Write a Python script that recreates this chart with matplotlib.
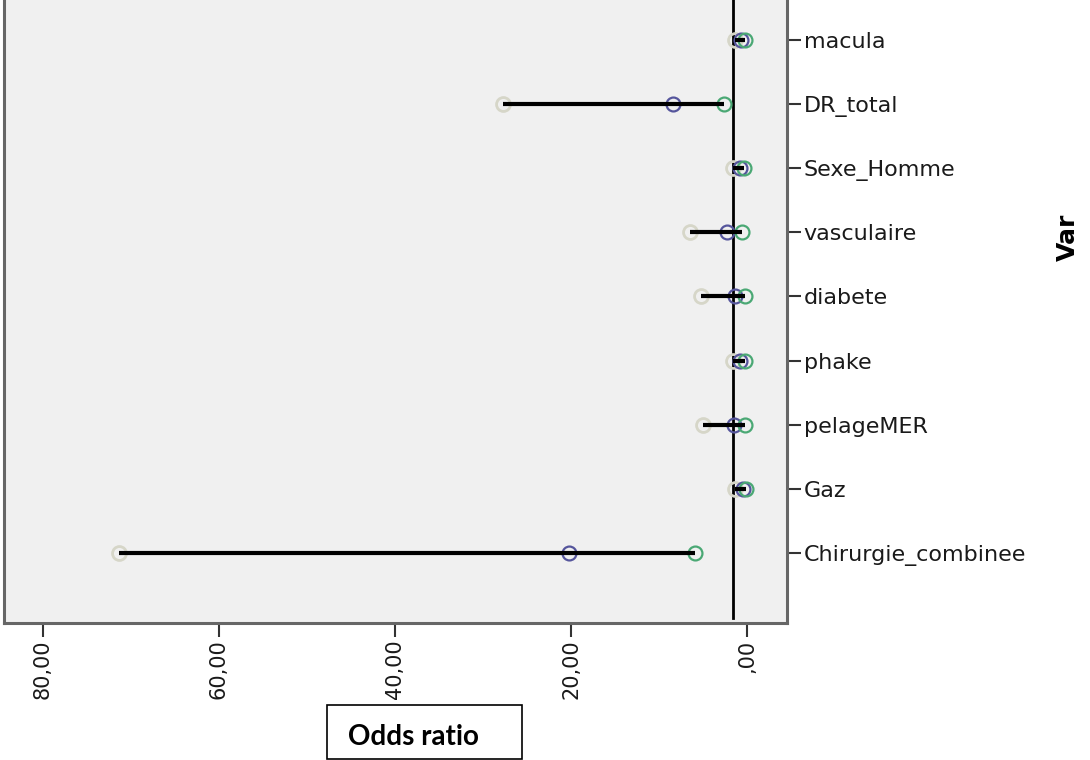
import matplotlib
matplotlib.use("Agg")
import matplotlib.pyplot as plt
from matplotlib.patches import Rectangle

categories = ["macula", "DR_total", "Sexe_Homme", "vasculaire", "diabete",
              "phake", "pelageMER", "Gaz", "Chirurgie_combinee"]
odds_ratio = [0.7, 8.4, 0.8, 2.3, 1.4, 0.8, 1.5, 0.5, 20.3]
ci_lower = [0.3, 2.6, 0.4, 0.6, 0.3, 0.3, 0.3, 0.2, 6.0]
ci_upper = [1.4, 27.7, 1.6, 6.5, 5.3, 1.6, 5.0, 1.4, 71.3]
ref_line = 1.6
xticks = [80, 60, 40, 20, 0]
xtick_labels = ["80,00", "60,00", "40,00", "20,00", ",00"]

fig = plt.figure(figsize=(10.9, 7.6), dpi=100)
ax = fig.add_axes([4/1090, 137/760, 783/1090, 653/760])
ax.set_facecolor("#f0f0f0")

y = list(range(len(categories)))

ax.axvline(ref_line, color="black", lw=2, zorder=2, ymin=0.008)
ax.plot(ci_upper, y, 'o', ms=10, mfc='none', mec='#d6d6c8', mew=2, zorder=3)
ax.plot(odds_ratio, y, 'o', ms=10, mfc='none', mec='#55559c', mew=1.6, zorder=3)
ax.plot(ci_lower, y, 'o', ms=10, mfc='none', mec='#4aa874', mew=1.6, zorder=3)
ax.hlines(y, ci_lower, ci_upper, color='black', lw=3, zorder=4)

ax.set_xlim(84.4, -4.5)
ax.set_ylim(len(categories) - 1 + 1.09, -1.09)

ax.set_xticks(xticks)
ax.set_xticklabels(xtick_labels, rotation=90, fontsize=15, color="#1a1a1a")
ax.set_yticks(y)
ax.set_yticklabels(categories, fontsize=16, color="#1a1a1a")
ax.yaxis.tick_right()
ax.tick_params(axis='x', length=10, width=1.5, color="#333333", pad=2)
ax.tick_params(axis='y', length=10, width=1.5, color="#333333", pad=2,
               left=False, right=True)

for s in ax.spines.values():
    s.set_color("#666666")
    s.set_linewidth(2.2)

fig.text(1068/1090, (760-237)/760, "Var", rotation=90, fontsize=18,
         fontweight="bold", ha="center", va="center")

fig.patches.append(Rectangle((327/1090, 1/760), 195/1090, 54/760,
                             transform=fig.transFigure, fill=False,
                             edgecolor="black", lw=1.2))
fig.text(348/1090, (760-737)/760, "Odds ratio", fontsize=20, fontweight="bold",
         family=["Lato", "DejaVu Sans"], ha="left", va="center")

fig.savefig("out.png", dpi=100)
